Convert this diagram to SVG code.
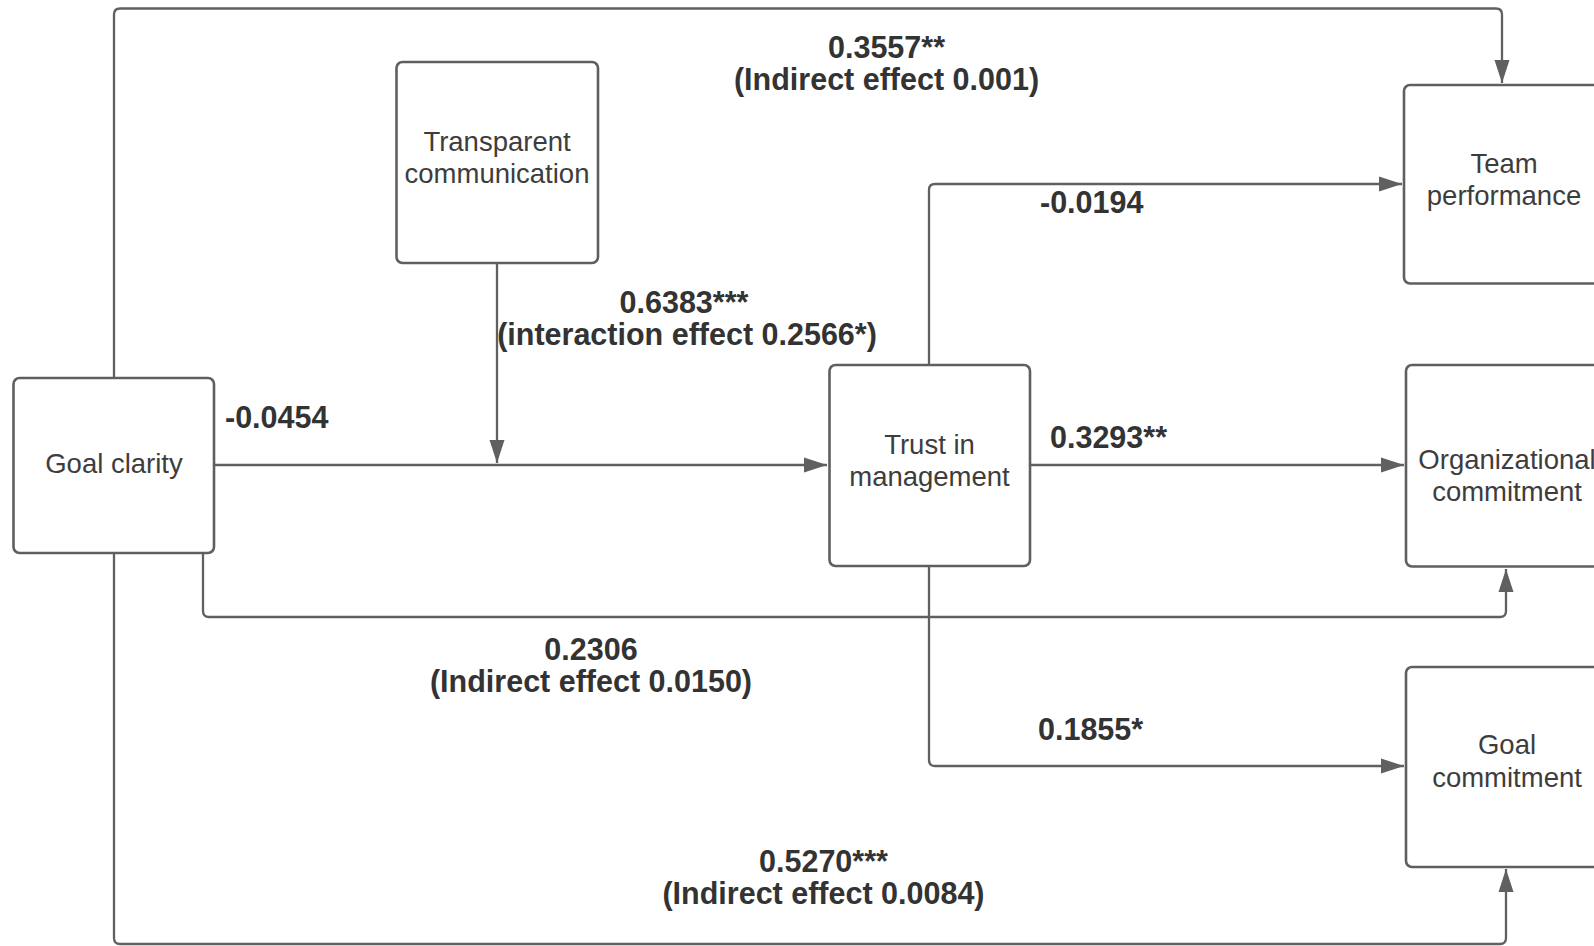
<svg xmlns="http://www.w3.org/2000/svg" width="1594" height="946" viewBox="0 0 1594 946">
<style>
.box{fill:#fff;stroke:#5f5f5f;stroke-width:2.6}
.lbl{font-family:"Liberation Sans",Arial,sans-serif;font-size:27.5px;fill:#3d3d3d;text-anchor:middle}
.eff{font-family:"Liberation Sans",Arial,sans-serif;font-size:30.5px;font-weight:bold;fill:#333}
.mid{text-anchor:middle}
.con{fill:none;stroke:#606060;stroke-width:2.3;marker-end:url(#arr)}
</style>
<defs>
<marker id="arr" markerUnits="userSpaceOnUse" markerWidth="24" markerHeight="16" refX="23" refY="8" orient="auto">
<path d="M0,0.5 L23,8 L0,15.5 Z" fill="#606060"/>
</marker>
</defs>
<rect width="1594" height="946" fill="#fff"/>
<g id="connectors">
<path class="con" d="M114,378 V14.5 Q114,8.5 120,8.5 H1496 Q1502,8.5 1502,14.5 V83"/>
<path class="con" d="M497,263 V463"/>
<path class="con" d="M214,465 H827"/>
<path class="con" d="M929,365 V190 Q929,184 935,184 H1402"/>
<path class="con" d="M1030,465 H1404"/>
<path class="con" d="M929,565 V760 Q929,766 935,766 H1404"/>
<path class="con" d="M203,553 V611 Q203,617 209,617 H1500 Q1506,617 1506,611 V569"/>
<path class="con" d="M114,553 V938 Q114,944 120,944 H1500 Q1506,944 1506,938 V869"/>
</g>
<g id="goal-clarity">
<rect class="box" x="13.5" y="378" width="200.5" height="175" rx="6"/>
<text class="lbl" x="114" y="473">Goal clarity</text>
</g>
<g id="transparent-communication">
<rect class="box" x="396.5" y="62" width="201.5" height="201" rx="6"/>
<text class="lbl" x="497" y="150.5">Transparent</text>
<text class="lbl" x="497" y="182.5">communication</text>
</g>
<g id="trust-in-management">
<rect class="box" x="829.5" y="365" width="200.5" height="201" rx="6"/>
<text class="lbl" x="929.5" y="453.5">Trust in</text>
<text class="lbl" x="929.5" y="485.5">management</text>
</g>
<g id="team-performance">
<rect class="box" x="1404" y="85" width="201" height="198.5" rx="6"/>
<text class="lbl" x="1504" y="172.5">Team</text>
<text class="lbl" x="1504" y="205">performance</text>
</g>
<g id="organizational-commitment">
<rect class="box" x="1406" y="365" width="201" height="201.5" rx="6"/>
<text class="lbl" x="1507" y="468.5">Organizational</text>
<text class="lbl" x="1507" y="500.5">commitment</text>
</g>
<g id="goal-commitment">
<rect class="box" x="1406" y="667" width="201" height="200" rx="6"/>
<text class="lbl" x="1507" y="753.5">Goal</text>
<text class="lbl" x="1507" y="786.5">commitment</text>
</g>
<g id="labels">
<text class="eff mid" x="886.5" y="58">0.3557**</text>
<text class="eff mid" x="886.5" y="89.5">(Indirect effect 0.001)</text>
<text class="eff mid" x="684" y="313">0.6383***</text>
<text class="eff mid" x="687" y="345">(interaction effect 0.2566*)</text>
<text class="eff" x="225" y="428">-0.0454</text>
<text class="eff" x="1040" y="213">-0.0194</text>
<text class="eff" x="1050" y="448">0.3293**</text>
<text class="eff mid" x="591" y="660">0.2306</text>
<text class="eff mid" x="591" y="691.5">(Indirect effect 0.0150)</text>
<text class="eff" x="1038" y="740">0.1855*</text>
<text class="eff mid" x="823.5" y="872">0.5270***</text>
<text class="eff mid" x="823.5" y="904">(Indirect effect 0.0084)</text>
</g>
</svg>
